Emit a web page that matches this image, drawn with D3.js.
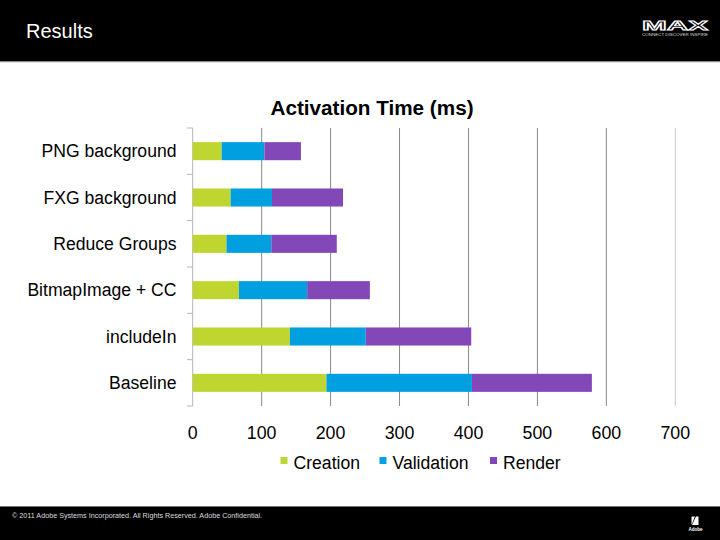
<!DOCTYPE html>
<html><head><meta charset="utf-8">
<script src="https://cdn.jsdelivr.net/npm/d3@7"></script>
<style>body{margin:0;background:#fff}svg{display:block}text{font-family:"Liberation Sans",Arial,sans-serif}</style>
</head><body>
<svg id="c" width="720" height="540"></svg>
<script>
const categories = ["PNG background","FXG background","Reduce Groups","BitmapImage + CC","includeIn","Baseline"];
const seriesNames = ["Creation","Validation","Render"];
const creation   = [42, 55, 49, 67, 141, 194];
const validation = [62, 60, 65, 99, 110, 211];
const render     = [53, 103, 95, 91, 153, 174];
const xTicks = [0,100,200,300,400,500,600,700];
const colors = ["#bfd630","#00a0e0","#8348b8"];

const svg = d3.select("#c");
// header
svg.append("rect").attr("x",0).attr("y",0).attr("width",720).attr("height",61).attr("fill","#000");
svg.append("rect").attr("x",0).attr("y",61).attr("width",720).attr("height",1.2).attr("fill","#888");
svg.append("text").attr("x",26).attr("y",38).attr("fill","#fff").attr("font-size",20).text("Results");
// MAX logo
svg.append("text").attr("x",675).attr("y",30).attr("text-anchor","middle").attr("font-size",13).attr("font-weight","bold")
  .attr("fill","none").attr("stroke","#fff").attr("stroke-width",0.8).attr("textLength",66).attr("lengthAdjust","spacingAndGlyphs").text("MAX");
svg.append("text").attr("x",675).attr("y",36).attr("text-anchor","middle").attr("font-size",4).attr("fill","#ddd")
  .attr("textLength",66).attr("lengthAdjust","spacingAndGlyphs").text("CONNECT DISCOVER INSPIRE");
// footer
svg.append("rect").attr("x",0).attr("y",506.5).attr("width",720).attr("height",33.5).attr("fill","#000");
svg.append("rect").attr("x",0).attr("y",506).attr("width",720).attr("height",1).attr("fill","#777");
svg.append("text").attr("x",12).attr("y",518).attr("fill","#ddd").attr("font-size",7.2)
  .text("© 2011 Adobe Systems Incorporated. All Rights Reserved. Adobe Confidential.");
svg.append("path").attr("d","M692,525 L696,516.5 L698.5,516.5 L698.5,525 Z M691.5,525 L695,516.5 L692,516.5 L691.5,517 Z").attr("fill","#fff");
svg.append("text").attr("x",695.5).attr("y",531).attr("text-anchor","middle").attr("fill","#fff").attr("font-size",4.5).attr("font-weight","bold").text("Adobe");

// chart
const x = d3.scaleLinear().domain([0,700]).range([192.7,675.3]);
const y = d3.scaleBand().domain(categories).range([128,406]).paddingInner(0.61).paddingOuter(0.305);
const step = y.step();

svg.append("text").attr("x",372).attr("y",114.7).attr("text-anchor","middle").attr("font-size",20.7).attr("font-weight","bold").attr("fill","#000").text("Activation Time (ms)");

// gridlines
svg.append("g").selectAll("line").data(xTicks.slice(1)).join("line")
  .attr("x1",d=>x(d)).attr("x2",d=>x(d)).attr("y1",128).attr("y2",406)
  .attr("stroke",d=>d===700?"#c8c8c8":"#8a8a8a").attr("stroke-width",1);
// left axis
svg.append("line").attr("x1",x(0)).attr("x2",x(0)).attr("y1",128).attr("y2",406).attr("stroke","#b5b5b5");
const bounds = d3.range(categories.length+1).map(i=>128+i*step);
svg.append("g").selectAll("line").data(bounds).join("line")
  .attr("x1",187).attr("x2",x(0)).attr("y1",d=>d).attr("y2",d=>d).attr("stroke","#b5b5b5");

// stacked bars
const rows = categories.map((c,i)=>({cat:c, Creation:creation[i], Validation:validation[i], Render:render[i]}));
const stack = d3.stack().keys(seriesNames)(rows);
svg.append("g").selectAll("g").data(stack).join("g").attr("fill",(d,i)=>colors[i])
  .selectAll("rect").data(d=>d).join("rect")
  .attr("x",d=>x(d[0])).attr("width",d=>x(d[1])-x(d[0]))
  .attr("y",d=>y(d.data.cat)).attr("height",y.bandwidth());

// category labels
svg.append("g").selectAll("text").data(categories).join("text")
  .attr("x",176.5).attr("y",d=>y(d)+y.bandwidth()/2+6.2).attr("text-anchor","end")
  .attr("font-size",17.6).attr("fill","#000").text(d=>d);

// x tick labels
svg.append("g").selectAll("text").data(xTicks).join("text")
  .attr("x",d=>x(d)).attr("y",438.5).attr("text-anchor","middle")
  .attr("font-size",17.8).attr("fill","#000").text(d=>d);

// legend
const legX = [280.5,379.5,490];
const lg = svg.append("g").selectAll("g").data(seriesNames).join("g");
lg.append("rect").attr("x",(d,i)=>legX[i]).attr("y",457).attr("width",7).attr("height",7).attr("fill",(d,i)=>colors[i]);
lg.append("text").attr("x",(d,i)=>legX[i]+13).attr("y",469.3).attr("font-size",17.6).attr("fill","#000").text(d=>d);
</script>
</body></html>
